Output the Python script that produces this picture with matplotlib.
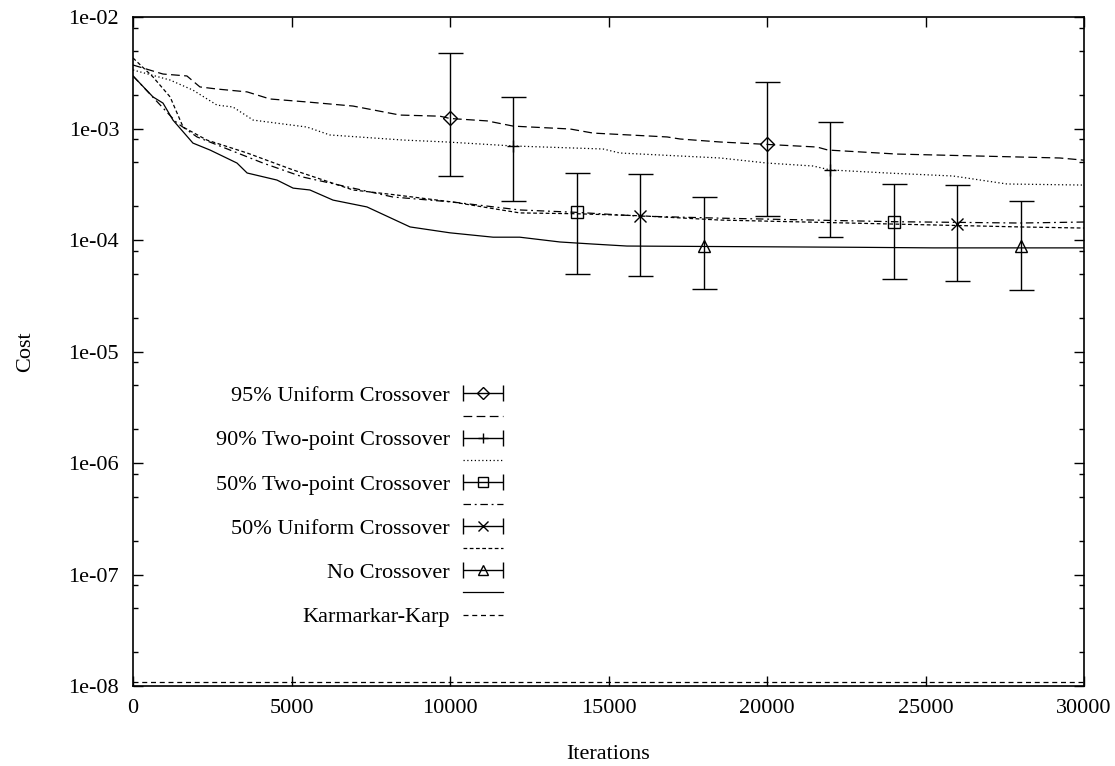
import numpy as np
import matplotlib
matplotlib.use("Agg")
import matplotlib.pyplot as plt
from matplotlib.legend_handler import HandlerErrorbar
from matplotlib.ticker import FixedLocator, FuncFormatter

plt.rcParams['font.family'] = ['Liberation Serif', 'DejaVu Serif']
plt.rcParams['font.size'] = 16

# --- curve data ---
uni95_x = [0, 946, 1700, 2110, 2650, 3600, 4320, 5490, 6940, 8420, 9680, 10000, 11170, 12000,
           13790, 14510, 16850, 17260, 18520, 20000, 21580, 21920, 24100, 27980, 29240, 30000]
uni95_y = [3.71e-3, 3.08e-3, 2.96e-3, 2.36e-3, 2.26e-3, 2.13e-3, 1.84e-3, 1.73e-3, 1.59e-3, 1.32e-3,
           1.29e-3, 1.23e-3, 1.17e-3, 1.05e-3, 9.9e-4, 9.1e-4, 8.4e-4, 8.05e-4, 7.57e-4, 7.2e-4,
           6.82e-4, 6.41e-4, 5.9e-4, 5.55e-4, 5.44e-4, 5.2e-4]

tp90_x = [0, 1170, 1890, 2650, 3150, 3790, 5490, 6210, 8520, 9900, 12000, 14830, 15360, 18520,
          20000, 21450, 22000, 23790, 25870, 27570, 30000]
tp90_y = [3.35e-3, 2.72e-3, 2.21e-3, 1.62e-3, 1.56e-3, 1.19e-3, 1.03e-3, 8.75e-4, 7.88e-4, 7.57e-4,
          6.97e-4, 6.55e-4, 6.03e-4, 5.44e-4, 4.9e-4, 4.61e-4, 4.25e-4, 3.99e-4, 3.75e-4, 3.18e-4,
          3.11e-4]

tp50_x = [0, 1390, 2020, 3060, 4100, 5360, 6940, 8200, 10090, 12200, 14000, 15960, 18520, 24000,
          27980, 30000]
tp50_y = [2.96e-3, 1.12e-3, 8.4e-4, 6.41e-4, 4.9e-4, 3.67e-4, 2.92e-4, 2.43e-4, 2.19e-4, 1.86e-4,
          1.77e-4, 1.64e-4, 1.57e-4, 1.46e-4, 1.42e-4, 1.45e-4]

uni50_x = [0, 630, 1170, 1580, 2330, 3600, 5050, 6940, 8330, 10090, 12200, 14000, 16000, 18520,
           24000, 27980, 30000]
uni50_y = [4.29e-3, 2.9e-3, 1.92e-3, 1.03e-3, 7.88e-4, 6.03e-4, 4.25e-4, 2.81e-4, 2.53e-4, 2.19e-4,
           1.75e-4, 1.72e-4, 1.65e-4, 1.51e-4, 1.39e-4, 1.31e-4, 1.28e-4]

nocx_x = [0, 630, 946, 1260, 1890, 2430, 3280, 3600, 4540, 5050, 5580, 6310, 7380, 8740, 10000,
          11360, 12200, 13470, 14510, 15580, 22930, 25240, 30000]
nocx_y = [2.96e-3, 1.92e-3, 1.69e-3, 1.19e-3, 7.4e-4, 6.41e-4, 4.9e-4, 3.99e-4, 3.45e-4, 2.92e-4,
          2.81e-4, 2.28e-4, 1.98e-4, 1.31e-4, 1.16e-4, 1.06e-4, 1.06e-4, 9.6e-5, 9.2e-5, 8.83e-5,
          8.6e-5, 8.5e-5, 8.5e-5]

kk_x = [0, 30000]
kk_y = [1.08e-8, 1.08e-8]

# --- error bar data: x, mean, low, high ---
uni95_ex = [10000, 20000]
uni95_em = [1.23e-3, 7.22e-4]
uni95_lo = [3.75e-4, 1.65e-4]
uni95_hi = [4.79e-3, 2.60e-3]

tp90_ex = [12000, 22000]
tp90_em = [6.97e-4, 4.25e-4]
tp90_lo = [2.22e-4, 1.06e-4]
tp90_hi = [1.92e-3, 1.14e-3]

tp50_ex = [14000, 24000]
tp50_em = [1.77e-4, 1.46e-4]
tp50_lo = [4.92e-5, 4.45e-5]
tp50_hi = [4.02e-4, 3.18e-4]

uni50_ex = [16000, 26000]
uni50_em = [1.65e-4, 1.38e-4]
uni50_lo = [4.79e-5, 4.29e-5]
uni50_hi = [3.88e-4, 3.11e-4]

nocx_ex = [18000, 28000]
nocx_em = [8.83e-5, 8.83e-5]
nocx_lo = [3.64e-5, 3.56e-5]
nocx_hi = [2.42e-4, 2.25e-4]

series = [
    ("95% Uniform Crossover", uni95_x, uni95_y, uni95_ex, uni95_em, uni95_lo, uni95_hi, 'D', 7, (0, (7, 3.5))),
    ("90% Two-point Crossover", tp90_x, tp90_y, tp90_ex, tp90_em, tp90_lo, tp90_hi, '+', 9, (0, (1, 2))),
    ("50% Two-point Crossover", tp50_x, tp50_y, tp50_ex, tp50_em, tp50_lo, tp50_hi, 's', 8, (0, (6, 3, 1.5, 3))),
    ("50% Uniform Crossover", uni50_x, uni50_y, uni50_ex, uni50_em, uni50_lo, uni50_hi, 'x', 9, (0, (3, 2))),
    ("No Crossover", nocx_x, nocx_y, nocx_ex, nocx_em, nocx_lo, nocx_hi, '^', 8, '-'),
]

fig = plt.figure(figsize=(11.15, 7.66), dpi=100)
ax = fig.add_axes([0.1193, 0.1044, 0.8529, 0.8734])

handles, labels = [], []
for name, lx, ly, ex, em, lo, hi, mk, ms, ls in series:
    em_a = np.array(em)
    yerr = [em_a - np.array(lo), np.array(hi) - em_a]
    ax.errorbar(ex, em, yerr=yerr, fmt=mk, color='black', ms=ms, mfc='none', mew=1,
                elinewidth=1, capsize=9, capthick=1, zorder=3)
    line, = ax.plot(lx, ly, color='black', lw=0.9, ls=ls)
    # horizontal-style proxy for the key, like the original
    proxy = ax.errorbar([np.nan], [np.nan], xerr=[[1], [1]], fmt=mk, color='black', ms=ms * 0.85,
                        mfc='none', mew=1, elinewidth=1, capsize=6, capthick=1)
    handles += [proxy, line]
    labels += [name, ""]

kk_line, = ax.plot(kk_x, kk_y, color='black', lw=0.9, ls=(0, (4, 3)))
handles.append(kk_line)
labels.append("Karmarkar-Karp")

ax.set_yscale('log')
ax.set_xlim(0, 30000)
ax.set_ylim(1e-8, 1e-2)

ax.set_xticks(np.arange(0, 30001, 5000))
ax.set_xticklabels([str(v) for v in range(0, 30001, 5000)])
ax.yaxis.set_major_locator(FixedLocator([10.0 ** e for e in range(-8, -1)]))
ax.yaxis.set_major_formatter(FuncFormatter(lambda v, p: "1e-%02d" % round(-np.log10(v))))
minors = [m * 10.0 ** e for e in range(-9, -2) for m in (2, 5, 8)]
ax.yaxis.set_minor_locator(FixedLocator([v for v in minors if 1e-8 < v < 1e-2]))
ax.yaxis.set_minor_formatter(FuncFormatter(lambda v, p: ""))

ax.tick_params(which='both', direction='in', top=True, right=True, width=1)
ax.tick_params(which='major', length=7, pad=10)
ax.tick_params(which='minor', length=3.5)
ax.tick_params(axis='x', pad=9)
for sp in ax.spines.values():
    sp.set_linewidth(1.2)

ax.set_xlabel("Iterations", labelpad=20)
ax.set_ylabel("Cost", labelpad=24)

ax.legend(handles, labels, loc='upper right', bbox_to_anchor=(0.389, 0.449),
          frameon=False, markerfirst=False, handlelength=1.8, handletextpad=0.6,
          labelspacing=0.07, borderpad=0, borderaxespad=0, numpoints=1,
          handler_map={type(handles[0]): HandlerErrorbar(xerr_size=0.9)})

fig.savefig("out.png", dpi=100)
